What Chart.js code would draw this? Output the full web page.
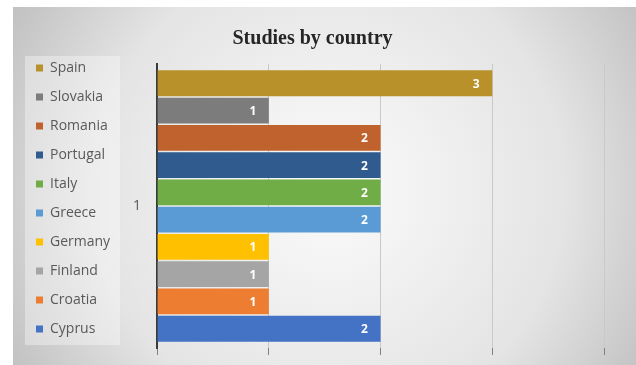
<!DOCTYPE html>
<html>
<head>
<meta charset="utf-8">
<script src="https://cdn.jsdelivr.net/npm/chart.js@4/dist/chart.umd.min.js"></script>
<style>
  body { margin: 0; background: #fff; }
  #wrap { width: 636px; height: 365px; }
</style>
</head>
<body>
<div id="wrap"><canvas id="myChart" width="636" height="365"></canvas></div>
<script>
// data
const categories = ['1']
const countries = ['Spain', 'Slovakia', 'Romania', 'Portugal', 'Italy', 'Greece', 'Germany', 'Finland', 'Croatia', 'Cyprus']
const studies = [3, 1, 2, 2, 2, 2, 1, 1, 1, 2]
const barColors = ['#b8912a', '#7c7c7c', '#bf622d', '#2f5b8e', '#70ad47', '#5b9bd5', '#ffc000', '#a5a5a5', '#ed7d31', '#4472c4']
const xTicks = [0, 1, 2, 3, 4]

// background gradient + the pale legend box
const bgPlugin = {
    id: 'bgPlugin',
    beforeDraw: (chart) => {
        let ctx = chart.ctx
        ctx.save()
        let g = ctx.createRadialGradient(330, 190, 20, 330, 190, 380)
        g.addColorStop(0, '#f9f9f9')
        g.addColorStop(0.6, '#e4e4e4')
        g.addColorStop(1, '#bdbdbd')
        ctx.fillStyle = g
        ctx.fillRect(13, 7, chart.width - 13, chart.height - 7)
        let lg = chart.legend
        ctx.fillStyle = 'rgba(255,255,255,0.35)'
        ctx.fillRect(lg.left + 4, chart.chartArea.top - 8, lg.width - 4, chart.chartArea.bottom - chart.chartArea.top + 5)
        ctx.restore()
    }
}

// white value labels just inside the bar ends
const valueLabels = {
    id: 'valueLabels',
    afterDatasetsDraw: (chart) => {
        let ctx = chart.ctx
        ctx.save()
        ctx.fillStyle = '#ffffff'
        ctx.font = 'bold 12px "Open Sans"'
        ctx.textAlign = 'center'
        ctx.textBaseline = 'middle'
        chart.data.datasets.forEach((ds, i) => {
            chart.getDatasetMeta(i).data.forEach((bar, j) => {
                ctx.fillText(String(ds.data[j]), bar.x - 16, bar.y + 1)
            })
        })
        ctx.restore()
    }
}

const data = {
    labels: categories,
    datasets: countries.map((c, i) => ({
        label: c,
        data: [studies[i]],
        backgroundColor: barColors[i],
        categoryPercentage: 0.96,
        barPercentage: 0.95
    }))
}

const config = {
    type: 'bar',
    data: data,
    options: {
        indexAxis: 'y',
        responsive: false,
        animation: false,
        layout: { padding: { left: 21, top: 7, right: 32, bottom: 0 } },
        plugins: {
            title: {
                display: true,
                text: 'Studies by country',
                color: '#262626',
                font: { family: '"Liberation Serif"', size: 20, weight: 'bold' },
                padding: { top: 20, bottom: 13 }
            },
            legend: {
                position: 'left',
                // empty title only pushes the list down a bit
                title: { display: true, text: '', font: { size: 10 }, padding: 6.5 },
                labels: {
                    boxWidth: 7,
                    boxHeight: 7,
                    padding: 15,
                    color: '#595959',
                    font: { family: '"Open Sans"', size: 14 }
                }
            },
            tooltip: { enabled: false }
        },
        scales: {
            x: {
                min: 0,
                max: 4,
                afterBuildTicks: (axis) => { axis.ticks = xTicks.map(v => ({ value: v })) },
                afterFit: (axis) => { axis.height = 17 },
                ticks: { display: false },
                grid: { color: '#c9c9c9', tickColor: '#808080', tickLength: 7 },
                border: { display: false }
            },
            y: {
                afterFit: (axis) => { axis.width = 37 },
                // no grid lines, the tick length only spaces the "1" off the axis
                grid: { display: false, drawTicks: true, tickLength: 16 },
                border: { display: true, color: '#3a3a3a', width: 2 },
                ticks: { color: '#595959', padding: 0, font: { family: '"Open Sans"', size: 14 } }
            }
        }
    },
    plugins: [bgPlugin, valueLabels]
}

const myChart = new Chart(document.getElementById('myChart'), config)
</script>
</body>
</html>
